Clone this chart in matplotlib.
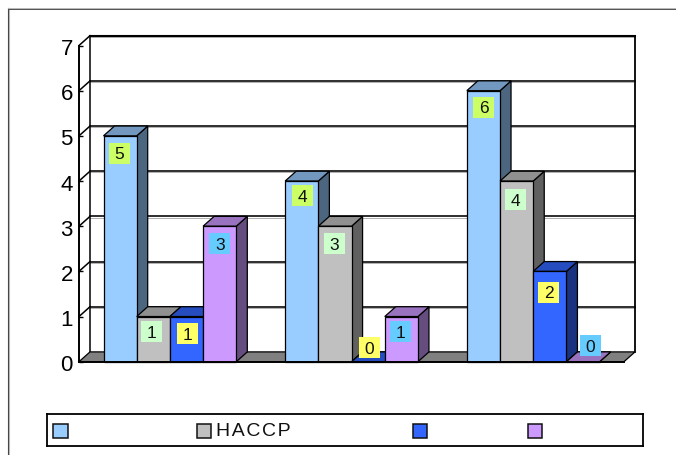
import matplotlib
matplotlib.use("Agg")
import matplotlib.pyplot as plt
from matplotlib.patches import Polygon, Rectangle
from matplotlib.lines import Line2D
from matplotlib.transforms import ScaledTranslation

plt.rcParams['font.family'] = ['Liberation Sans', 'DejaVu Sans']

# counts per group, one list per series
series_a = [5, 4, 6]
series_haccp = [1, 3, 4]
series_c = [1, 0, 2]
series_d = [3, 1, 0]
y_ticks = [0, 1, 2, 3, 4, 5, 6, 7]
# hair spaces keep the spaced-out caps inside the legend slot
legend_labels = ["", "H\u200aA\u200aC\u200aC\u200aP", "", ""]

W, H = 676, 455
fig = plt.figure(figsize=(W / 100, H / 100), dpi=100)

# front plane of the 3d box, in pixels
left, right, top, bottom = 79, 624, 45.5, 361.7
ax = fig.add_axes([left / W, 1 - bottom / H, (right - left) / W, (bottom - top) / H])
ax.set_xlim(0, 3)
ax.set_ylim(0, 7)
px = 3 / (right - left)
py = 7 / (bottom - top)

depth_x = 11 * px
depth_y = 9.8 * py
bar_w = 33.2 * px
margin = 24.5 * px

# face, top, side colours
colors = [
    ("#99CCFF", "#7398BF", "#4D6680"),
    ("#C0C0C0", "#909090", "#606060"),
    ("#3366FF", "#264DBF", "#1A3380"),
    ("#CC99FF", "#9973BF", "#664D80"),
]
label_colors = ["#CCFF66", "#CCFFCC", "#FFFF66", "#66CCFF"]

# label box centres relative to the top of each bar, pixels (right, down)
label_offsets = [
    [(-0.6, 17.5), (0.7, 14.5), (0.1, 16.8)],
    [(-1.8, 15), (-0.5, 17.5), (-1.1, 18.5)],
    [(1, 17), (1.3, -14.2), (-1.3, 21)],
    [(0, 17.5), (-0.9, 15), (7.5, -16.2)],
]

all_series = [series_a, series_haccp, series_c, series_d]

edge = dict(edgecolor="black", linewidth=0.9, clip_on=False, joinstyle="miter")

# back wall, side wall and floor
ax.add_patch(Polygon([(0, 0), (depth_x, depth_y), (3 + depth_x, depth_y), (3 + depth_x, 7 + depth_y),
                      (depth_x, 7 + depth_y), (0, 7)], facecolor="white", edgecolor="none", clip_on=False, zorder=1))
for v in y_ticks[1:]:
    lw = 1.5 if v == 7 else 1.15
    ax.plot([depth_x, 3 + depth_x], [v + depth_y - 1.2 * py] * 2, color="#b0b0b0", lw=0.7, clip_on=False, zorder=1.5)
    ax.plot([depth_x, 3 + depth_x], [v + depth_y] * 2, color="black", lw=lw, clip_on=False, zorder=2)
    ax.plot([0, depth_x], [v, v + depth_y], color="black", lw=1.1, clip_on=False, zorder=2)
ax.plot([depth_x, depth_x], [depth_y, 7 + depth_y], color="black", lw=1.1, clip_on=False, zorder=2)
ax.plot([3 + depth_x, 3 + depth_x], [depth_y, 7 + depth_y], color="black", lw=1.3, clip_on=False, zorder=2)
ax.add_patch(Polygon([(0, 0), (3, 0), (3 + depth_x, depth_y), (depth_x, depth_y)], facecolor="#808080",
                     zorder=3, **edge))

# bars, left to right so each face covers the side of the one before
z = 4
for group in range(3):
    for i, values in enumerate(all_series):
        x0 = group + margin + i * bar_w
        x1 = x0 + bar_w
        v = values[group]
        face, roof, side = colors[i]
        ax.add_patch(Polygon([(x1, 0), (x1 + depth_x, depth_y), (x1 + depth_x, v + depth_y), (x1, v)],
                             facecolor=side, zorder=z, **edge))
        ax.add_patch(Polygon([(x0, v), (x1, v), (x1 + depth_x, v + depth_y), (x0 + depth_x, v + depth_y)],
                             facecolor=roof, zorder=z, **edge))
        ax.add_patch(Rectangle((x0, 0), bar_w, v, facecolor=face, zorder=z, **edge))
        z += 1

# value labels sit above everything
for group in range(3):
    for i, values in enumerate(all_series):
        v = values[group]
        ox, oy = label_offsets[i][group]
        cx = group + margin + (i + 0.5) * bar_w + ox * px
        cy = v - oy * py
        ax.add_patch(Rectangle((cx - 10.5 * px, cy - 10.5 * py), 21 * px, 21 * py, facecolor=label_colors[i],
                               edgecolor="none", clip_on=False, zorder=50))
        ax.text(cx, cy, str(v), ha="center", va="center_baseline", fontsize=12.5, color="#111111", zorder=51)

for name in ["top", "right"]:
    ax.spines[name].set_visible(False)
for name in ["left", "bottom"]:
    ax.spines[name].set_linewidth(1.4)
    ax.spines[name].set_zorder(45)
ax.patch.set_visible(False)
ax.set_yticks(y_ticks)
ax.set_xticks([1, 2])
ax.set_xticklabels([])
ax.tick_params(axis="y", direction="in", length=3, width=1, pad=4.5, labelsize=16)
ax.tick_params(axis="x", direction="in", length=3, width=1)
for label in ax.get_yticklabels():
    label.set_transform(label.get_transform() + ScaledTranslation(0, -1.5 / 100, fig.dpi_scale_trans))

# legend strip
lx0, lx1, ly0, ly1 = 47, 643, 414, 446
leg = fig.add_axes([lx0 / W, 1 - ly1 / H, (lx1 - lx0) / W, (ly1 - ly0) / H])
leg.set_xlim(lx0, lx1)
leg.set_ylim(ly1, ly0)
leg.set_xticks([])
leg.set_yticks([])
for s in leg.spines.values():
    s.set_linewidth(1.3)
swatch_x = [53.5, 196.5, 412.5, 527.5]
for i, sx in enumerate(swatch_x):
    leg.add_patch(Rectangle((sx, 423.5), 14.5, 14.5, facecolor=colors[i][0], edgecolor="#111111", linewidth=1.1))
    leg.text(sx + 20, 431, legend_labels[i], ha="left", va="center", fontsize=14, color="#111111")

# outer frame, open on the right and at the bottom
for x, c in [(8, "#404040"), (9.3, "#b8b8b8")]:
    fig.add_artist(Line2D([x / W, x / W], [0, 1 - 8 / H], color=c, lw=0.8))
for y, c in [(7.5, "#b8b8b8"), (8.6, "#505050")]:
    fig.add_artist(Line2D([8 / W, 1], [1 - y / H, 1 - y / H], color=c, lw=0.7))

fig.savefig("out.png", dpi=100)
